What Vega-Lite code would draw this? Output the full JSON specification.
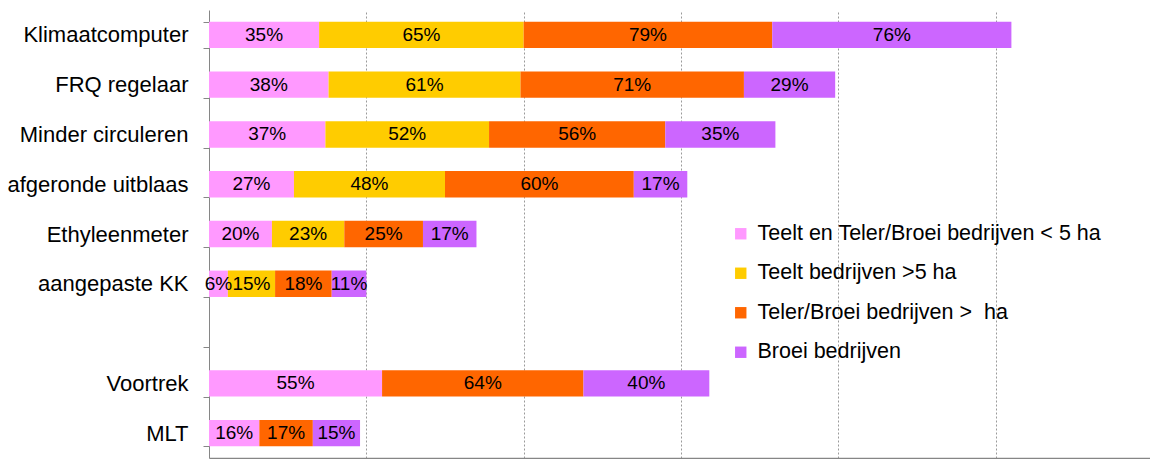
{
  "$schema": "https://vega.github.io/schema/vega-lite/v6.json",
  "autosize": {"type": "none"},
  "padding": {"left": 209, "top": 10, "right": 0, "bottom": 1},
  "width": 944,
  "height": 448,
  "background": "white",
  "config": {
    "view": {"stroke": null},
    "font": "Liberation Sans"
  },
  "data": {
    "values": [
      {"cat": "Klimaatcomputer", "groep": "Teelt en Teler/Broei bedrijven < 5 ha", "k": 1, "v": 0.35},
      {"cat": "Klimaatcomputer", "groep": "Teelt bedrijven >5 ha", "k": 2, "v": 0.65},
      {"cat": "Klimaatcomputer", "groep": "Teler/Broei bedrijven >\u00a0 ha", "k": 3, "v": 0.79},
      {"cat": "Klimaatcomputer", "groep": "Broei bedrijven", "k": 4, "v": 0.76},
      {"cat": "FRQ regelaar", "groep": "Teelt en Teler/Broei bedrijven < 5 ha", "k": 1, "v": 0.38},
      {"cat": "FRQ regelaar", "groep": "Teelt bedrijven >5 ha", "k": 2, "v": 0.61},
      {"cat": "FRQ regelaar", "groep": "Teler/Broei bedrijven >\u00a0 ha", "k": 3, "v": 0.71},
      {"cat": "FRQ regelaar", "groep": "Broei bedrijven", "k": 4, "v": 0.29},
      {"cat": "Minder circuleren", "groep": "Teelt en Teler/Broei bedrijven < 5 ha", "k": 1, "v": 0.37},
      {"cat": "Minder circuleren", "groep": "Teelt bedrijven >5 ha", "k": 2, "v": 0.52},
      {"cat": "Minder circuleren", "groep": "Teler/Broei bedrijven >\u00a0 ha", "k": 3, "v": 0.56},
      {"cat": "Minder circuleren", "groep": "Broei bedrijven", "k": 4, "v": 0.35},
      {"cat": "afgeronde uitblaas", "groep": "Teelt en Teler/Broei bedrijven < 5 ha", "k": 1, "v": 0.27},
      {"cat": "afgeronde uitblaas", "groep": "Teelt bedrijven >5 ha", "k": 2, "v": 0.48},
      {"cat": "afgeronde uitblaas", "groep": "Teler/Broei bedrijven >\u00a0 ha", "k": 3, "v": 0.60},
      {"cat": "afgeronde uitblaas", "groep": "Broei bedrijven", "k": 4, "v": 0.17},
      {"cat": "Ethyleenmeter", "groep": "Teelt en Teler/Broei bedrijven < 5 ha", "k": 1, "v": 0.20},
      {"cat": "Ethyleenmeter", "groep": "Teelt bedrijven >5 ha", "k": 2, "v": 0.23},
      {"cat": "Ethyleenmeter", "groep": "Teler/Broei bedrijven >\u00a0 ha", "k": 3, "v": 0.25},
      {"cat": "Ethyleenmeter", "groep": "Broei bedrijven", "k": 4, "v": 0.17},
      {"cat": "aangepaste KK", "groep": "Teelt en Teler/Broei bedrijven < 5 ha", "k": 1, "v": 0.06},
      {"cat": "aangepaste KK", "groep": "Teelt bedrijven >5 ha", "k": 2, "v": 0.15},
      {"cat": "aangepaste KK", "groep": "Teler/Broei bedrijven >\u00a0 ha", "k": 3, "v": 0.18},
      {"cat": "aangepaste KK", "groep": "Broei bedrijven", "k": 4, "v": 0.11},
      {"cat": "Voortrek", "groep": "Teelt en Teler/Broei bedrijven < 5 ha", "k": 1, "v": 0.55},
      {"cat": "Voortrek", "groep": "Teler/Broei bedrijven >\u00a0 ha", "k": 3, "v": 0.64},
      {"cat": "Voortrek", "groep": "Broei bedrijven", "k": 4, "v": 0.40},
      {"cat": "MLT", "groep": "Teelt en Teler/Broei bedrijven < 5 ha", "k": 1, "v": 0.16},
      {"cat": "MLT", "groep": "Teler/Broei bedrijven >\u00a0 ha", "k": 3, "v": 0.17},
      {"cat": "MLT", "groep": "Broei bedrijven", "k": 4, "v": 0.15}
    ]
  },
  "transform": [
    {"stack": "v", "groupby": ["cat"], "sort": [{"field": "k", "order": "ascending"}], "as": ["x0", "x1"]},
    {"calculate": "(datum.x0 + datum.x1) / 2", "as": "xm"}
  ],
  "encoding": {
    "y": {
      "field": "cat",
      "type": "nominal",
      "title": null,
      "scale": {
        "domain": ["Klimaatcomputer", "FRQ regelaar", "Minder circuleren", "afgeronde uitblaas", "Ethyleenmeter", "aangepaste KK", " ", "Voortrek", "MLT"],
        "paddingInner": 0.47,
        "paddingOuter": 0.235
      },
      "axis": {
        "tickBand": "extent",
        "domainColor": "#868686",
        "tickColor": "#868686",
        "tickSize": 6,
        "labelPadding": 15,
        "labelFontSize": 22,
        "labelColor": "#000000",
        "labelFont": "Liberation Sans",
        "labelLimit": 300,
        "grid": false
      }
    }
  },
  "layer": [
    {
      "mark": {"type": "bar"},
      "encoding": {
        "x": {
          "field": "x0",
          "type": "quantitative",
          "scale": {"domain": [0, 3], "nice": false},
          "axis": {
            "title": null,
            "labels": false,
            "ticks": false,
            "values": [0.5, 1, 1.5, 2, 2.5],
            "grid": true,
            "gridColor": "#9a9a9a",
            "gridDash": [2, 2],
            "gridWidth": 1,
            "domainColor": "#868686",
            "domainWidth": 1.5
          }
        },
        "x2": {"field": "x1"},
        "color": {
          "field": "groep",
          "type": "nominal",
          "scale": {
            "domain": ["Teelt en Teler/Broei bedrijven < 5 ha", "Teelt bedrijven >5 ha", "Teler/Broei bedrijven >\u00a0 ha", "Broei bedrijven"],
            "range": ["#FF99FF", "#FFCC00", "#FF6600", "#CC66FF"]
          },
          "legend": {
            "title": null,
            "orient": "none",
            "legendX": 521,
            "legendY": 213,
            "padding": 0,
            "symbolType": "square",
            "symbolSize": 130,
            "symbolStrokeWidth": 0,
            "labelFontSize": 21.5,
            "labelFont": "Liberation Sans",
            "labelColor": "#000000",
            "labelOffset": 6,
            "rowPadding": 16.5,
            "labelLimit": 500
          }
        }
      }
    },
    {
      "mark": {"type": "text", "fontSize": 19, "font": "Liberation Sans", "color": "#000000", "align": "center", "baseline": "middle"},
      "encoding": {
        "x": {"field": "xm", "type": "quantitative"},
        "text": {"field": "v", "type": "quantitative", "format": ".0%"}
      }
    }
  ]
}
